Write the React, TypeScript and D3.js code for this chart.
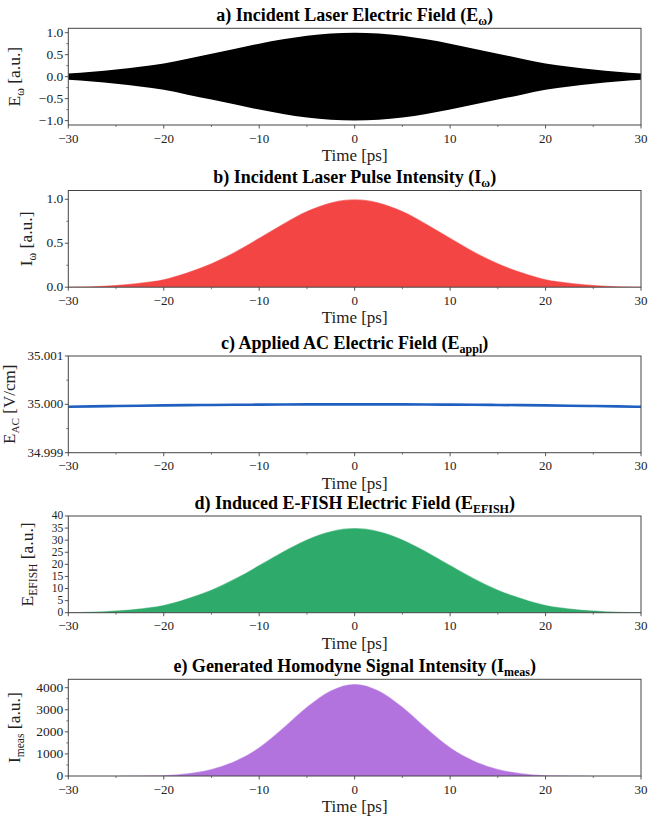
import React from "react";
import * as d3 from "d3";

// ---- Data ----
const time = [-30, -27.5, -25, -22.5, -20, -17.5, -15, -12.5, -10, -7.5, -5, -2.5, 0, 2.5, 5, 7.5, 10, 12.5, 15, 17.5, 20, 22.5, 25, 27.5, 30];
// a) envelope of incident laser field
const fieldEnvelope = [0.07, 0.11, 0.16, 0.225, 0.3, 0.41, 0.52, 0.635, 0.75, 0.85, 0.93, 0.982, 1.0, 0.982, 0.93, 0.85, 0.75, 0.635, 0.52, 0.41, 0.3, 0.225, 0.16, 0.11, 0.07];
// b) incident laser pulse intensity
const pulseIntensity = [0.005, 0.012, 0.026, 0.05, 0.09, 0.17, 0.272, 0.405, 0.562, 0.722, 0.866, 0.964, 1.0, 0.964, 0.866, 0.722, 0.562, 0.405, 0.272, 0.17, 0.09, 0.05, 0.026, 0.012, 0.005];
// c) applied AC field
const acField = [34.99995, 34.999958, 34.999965, 34.999972, 34.999978, 34.999983, 34.999987, 34.999991, 34.999994, 34.999997, 34.999999, 35.0, 35.0, 35.0, 34.999999, 34.999997, 34.999994, 34.999991, 34.999987, 34.999983, 34.999978, 34.999972, 34.999965, 34.999958, 34.99995];
// d) induced E-FISH field
const efishField = [0.2, 0.4, 0.9, 1.75, 3.2, 6.0, 9.5, 14.2, 19.7, 25.3, 30.3, 33.7, 35.0, 33.7, 30.3, 25.3, 19.7, 14.2, 9.5, 6.0, 3.2, 1.75, 0.9, 0.4, 0.2];
// e) generated homodyne signal
const homodyneSignal = [0, 1, 3, 10, 34, 123, 315, 693, 1300, 2185, 3135, 3875, 4170, 3875, 3135, 2185, 1300, 693, 315, 123, 34, 10, 3, 1, 0];

const xTicks = [-30, -20, -10, 0, 10, 20, 30];
const xMinorTicks = [-25, -15, -5, 5, 15, 25];

const W = 648;
const H = 816;
const left = 68.3;
const right = 641;
const plotH = 96.7;
const FONT = "Liberation Serif, Times New Roman, serif";
const AXIS = "#444";

type Panel = {
  key: string;
  top: number;
  titleMain: string;
  titleSub: string;
  yMain: string;
  ySub: string;
  yUnit: string;
  yLabelX: number;
  yLabelSize: number;
  tickSize: number;
  domain: [number, number];
  yTicks: number[];
  yMinor: number[];
  fmt: (v: number) => string;
  kind: "band" | "area" | "line";
  values: number[];
  color: string;
};

const minus = (s: string) => s.replace("-", "\u2212");

const panels: Panel[] = [
  {
    key: "a", top: 28.3, titleMain: "a) Incident Laser Electric Field (E", titleSub: "\u03c9",
    yMain: "E", ySub: "\u03c9", yUnit: " [a.u.]", yLabelX: 20, yLabelSize: 17.5, tickSize: 13.5,
    domain: [-1.1, 1.1], yTicks: [-1, -0.5, 0, 0.5, 1], yMinor: [-0.75, -0.25, 0.25, 0.75],
    fmt: (v) => minus(v.toFixed(1)), kind: "band", values: fieldEnvelope, color: "#000000",
  },
  {
    key: "b", top: 190.5, titleMain: "b) Incident Laser Pulse Intensity (I", titleSub: "\u03c9",
    yMain: "I", ySub: "\u03c9", yUnit: " [a.u.]", yLabelX: 32, yLabelSize: 17.5, tickSize: 13.5,
    domain: [0, 1.1], yTicks: [0, 0.5, 1], yMinor: [0.25, 0.75],
    fmt: (v) => v.toFixed(1), kind: "area", values: pulseIntensity, color: "#f44545",
  },
  {
    key: "c", top: 356, titleMain: "c) Applied AC Electric Field (E", titleSub: "appl",
    yMain: "E", ySub: "AC", yUnit: " [V/cm]", yLabelX: 15, yLabelSize: 17, tickSize: 13,
    domain: [34.999, 35.001], yTicks: [34.999, 35.0, 35.001], yMinor: [34.9995, 35.0005],
    fmt: (v) => v.toFixed(3), kind: "line", values: acField, color: "#1f5fc0",
  },
  {
    key: "d", top: 516, titleMain: "d) Induced E-FISH Electric Field (E", titleSub: "EFISH",
    yMain: "E", ySub: "EFISH", yUnit: " [a.u.]", yLabelX: 33, yLabelSize: 17.5, tickSize: 11.5,
    domain: [0, 40], yTicks: [0, 5, 10, 15, 20, 25, 30, 35, 40], yMinor: [],
    fmt: (v) => String(v), kind: "area", values: efishField, color: "#2eaa6b",
  },
  {
    key: "e", top: 679.3, titleMain: "e) Generated Homodyne Signal Intensity (I", titleSub: "meas",
    yMain: "I", ySub: "meas", yUnit: " [a.u.]", yLabelX: 20, yLabelSize: 17.5, tickSize: 13.5,
    domain: [0, 4380], yTicks: [0, 1000, 2000, 3000, 4000], yMinor: [500, 1500, 2500, 3500],
    fmt: (v) => String(v), kind: "area", values: homodyneSignal, color: "#b273de",
  },
];

const x = d3.scaleLinear().domain([-30, 30]).range([left, right]);

function PanelView({ p }: { p: Panel }) {
  const bottom = p.top + plotH;
  const y = d3.scaleLinear().domain(p.domain).range([bottom, p.top]);
  const idx = d3.range(time.length);
  const curve = d3.curveMonotoneX;
  let mark: React.ReactNode = null;
  if (p.kind === "band") {
    const area = d3.area<number>().x((i) => x(time[i])).y0((i) => y(-p.values[i])).y1((i) => y(p.values[i])).curve(curve);
    mark = <path d={area(idx) || ""} fill={p.color} />;
  } else if (p.kind === "area") {
    const area = d3.area<number>().x((i) => x(time[i])).y0(y(0)).y1((i) => y(p.values[i])).curve(curve);
    const line = d3.line<number>().x((i) => x(time[i])).y((i) => y(p.values[i])).curve(curve);
    mark = (
      <g>
        <path d={area(idx) || ""} fill={p.color} />
        <path d={line(idx) || ""} fill="none" stroke="#ffffff" strokeOpacity={0.35} strokeWidth={1.2} />
      </g>
    );
  } else {
    const line = d3.line<number>().x((i) => x(time[i])).y((i) => y(p.values[i])).curve(curve);
    mark = <path d={line(idx) || ""} fill="none" stroke={p.color} strokeWidth={2.6} />;
  }
  const cx = (left + right) / 2;
  const cy = (p.top + bottom) / 2;
  const ts = p.tickSize;
  return (
    <g>
      <defs>
        <clipPath id={`clip-${p.key}`}>
          <rect x={left} y={p.top} width={right - left} height={plotH} />
        </clipPath>
      </defs>
      <g clipPath={`url(#clip-${p.key})`}>{mark}</g>
      <rect x={left} y={p.top} width={right - left} height={plotH} fill="none" stroke={AXIS} strokeWidth={1} />
      {/* title */}
      <text x={cx} y={p.top - 7.5} textAnchor="middle" fontFamily={FONT} fontWeight="bold" fontSize={18} fill="#000">
        {p.titleMain}
        <tspan fontSize={12} dy={4}>{p.titleSub}</tspan>
        <tspan dy={-4}>)</tspan>
      </text>
      {/* x ticks */}
      {xTicks.map((t) => (
        <g key={`xt${t}`}>
          <line x1={x(t)} x2={x(t)} y1={bottom} y2={bottom + 3.5} stroke={AXIS} strokeWidth={0.9} />
          <text x={x(t)} y={bottom + 17.5} textAnchor="middle" fontFamily={FONT} fontSize={13} fill="#222">
            {minus(String(t))}
          </text>
        </g>
      ))}
      {xMinorTicks.map((t) => (
        <line key={`xm${t}`} x1={x(t)} x2={x(t)} y1={bottom} y2={bottom + 2} stroke={AXIS} strokeWidth={0.7} />
      ))}
      <text x={cx} y={bottom + 36} textAnchor="middle" fontFamily={FONT} fontSize={17} fill="#222">Time [ps]</text>
      {/* y ticks */}
      {p.yTicks.map((t) => (
        <g key={`yt${t}`}>
          <line x1={left - 3.5} x2={left} y1={y(t)} y2={y(t)} stroke={AXIS} strokeWidth={0.9} />
          <text x={left - 5} y={y(t) + ts * 0.3} textAnchor="end" fontFamily={FONT} fontSize={ts} fill="#222">
            {p.fmt(t)}
          </text>
        </g>
      ))}
      {p.yMinor.map((t) => (
        <line key={`ym${t}`} x1={left - 2} x2={left} y1={y(t)} y2={y(t)} stroke={AXIS} strokeWidth={0.7} />
      ))}
      {/* y label */}
      <text transform={`translate(${p.yLabelX},${cy}) rotate(-90)`} textAnchor="middle" fontFamily={FONT} fontSize={p.yLabelSize} fill="#222">
        {p.yMain}
        <tspan fontSize={p.yLabelSize * 0.66} dy={3.5}>{p.ySub}</tspan>
        <tspan dy={-3.5}>{p.yUnit}</tspan>
      </text>
    </g>
  );
}

export default function App() {
  return (
    <svg width={W} height={H} style={{ position: "absolute", left: 0, top: 0, background: "#fff" }}>
      <rect width={W} height={H} fill="#fff" />
      {panels.map((p) => (
        <PanelView key={p.key} p={p} />
      ))}
    </svg>
  );
}
